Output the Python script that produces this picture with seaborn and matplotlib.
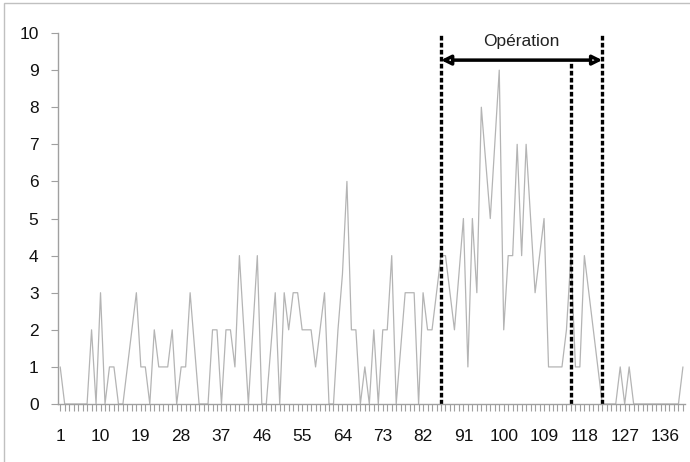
import numpy as np
import pandas as pd
import matplotlib.pyplot as plt
import seaborn as sns
from matplotlib.patches import Rectangle

# daily counts (140 days)
counts = [
    1, 0, 0, 0, 0, 0, 0, 2, 0, 3,
    0, 1, 1, 0, 0, 1, 2, 3, 1, 1,
    0, 2, 1, 1, 1, 2, 0, 1, 1, 3,
    1.5, 0, 0, 0, 2, 2, 0, 2, 2, 1,
    4, 2, 0, 2, 4, 0, 0, 1.5, 3, 0,
    3, 2, 3, 3, 2, 2, 2, 1, 2, 3,
    0, 0, 2, 3.5, 6, 2, 2, 0, 1, 0,
    2, 0, 2, 2, 4, 0, 1.5, 3, 3, 3,
    0, 3, 2, 2, 3, 4, 4, 3, 2, 3.5,
    5, 1, 5, 3, 8, 6.5, 5, 7, 9, 2,
    4, 4, 7, 4, 7, 5, 3, 4, 5, 1,
    1, 1, 1, 2, 4, 1, 1, 4, 3, 2,
    1, 0, 0, 0, 0, 1, 0, 1, 0, 0,
    0, 0, 0, 0, 0, 0, 0, 0, 0, 1,
]
days = np.arange(1, len(counts) + 1)
label_days = list(range(1, 137, 9))
y_ticks = list(range(0, 11))

# event markers
operation_start = 86
operation_mid = 115
operation_end = 122
operation_label = "Opération"

df = pd.DataFrame({"day": days, "count": counts})

sns.set_style("ticks")
plt.rcParams["font.family"] = ["Liberation Sans", "DejaVu Sans"]

fig = plt.figure(figsize=(6.9, 4.62), dpi=100)
ax = fig.add_axes([0.084, 0.1255, 0.909, 0.803])

sns.lineplot(data=df, x="day", y="count", ax=ax, color="#b4b4b4", lw=0.9)

dash = dict(color="black", lw=2.4, linestyle=(0, (1.4, 0.7)), clip_on=False)
ax.plot([operation_start, operation_start], [0, 10], **dash)
ax.plot([operation_end, operation_end], [0, 10], **dash)
ax.plot([operation_mid, operation_mid], [0, 9.2], **dash)

ax.annotate("", xy=(operation_start, 9.27), xytext=(operation_end, 9.27),
            arrowprops=dict(arrowstyle="<|-|>", lw=2.5, color="black",
                            fc="white", mutation_scale=14, shrinkA=0, shrinkB=0))
ax.text((operation_start + operation_end) / 2, 9.77, operation_label,
        ha="center", va="center", fontsize=12.5, color="#222222")

ax.set_xlim(0.5, 140.5)
ax.set_ylim(0, 10)
ax.set_xticks(label_days)
ax.set_xticklabels([str(d) for d in label_days])
ax.set_xticks(days, minor=True)
ax.set_yticks(y_ticks)
ax.set_xlabel("")
ax.set_ylabel("")

sns.despine(ax=ax)
for side in ["left", "bottom"]:
    ax.spines[side].set_color("#a0a0a0")
    ax.spines[side].set_linewidth(1.0)
ax.tick_params(axis="both", which="both", direction="out", length=5,
               width=0.8, color="#a0a0a0", labelsize=12.5, labelcolor="#111111")
ax.tick_params(axis="x", pad=13)
ax.tick_params(axis="y", pad=9)

# outer chart border (top and left edges visible)
fig.patches.append(Rectangle((4 / 690, -0.1), 1.2, 1.1 - 3 / 462,
                             transform=fig.transFigure, fill=False,
                             edgecolor="#c0c0c0", lw=1.0))

fig.savefig("out.png", dpi=100)
